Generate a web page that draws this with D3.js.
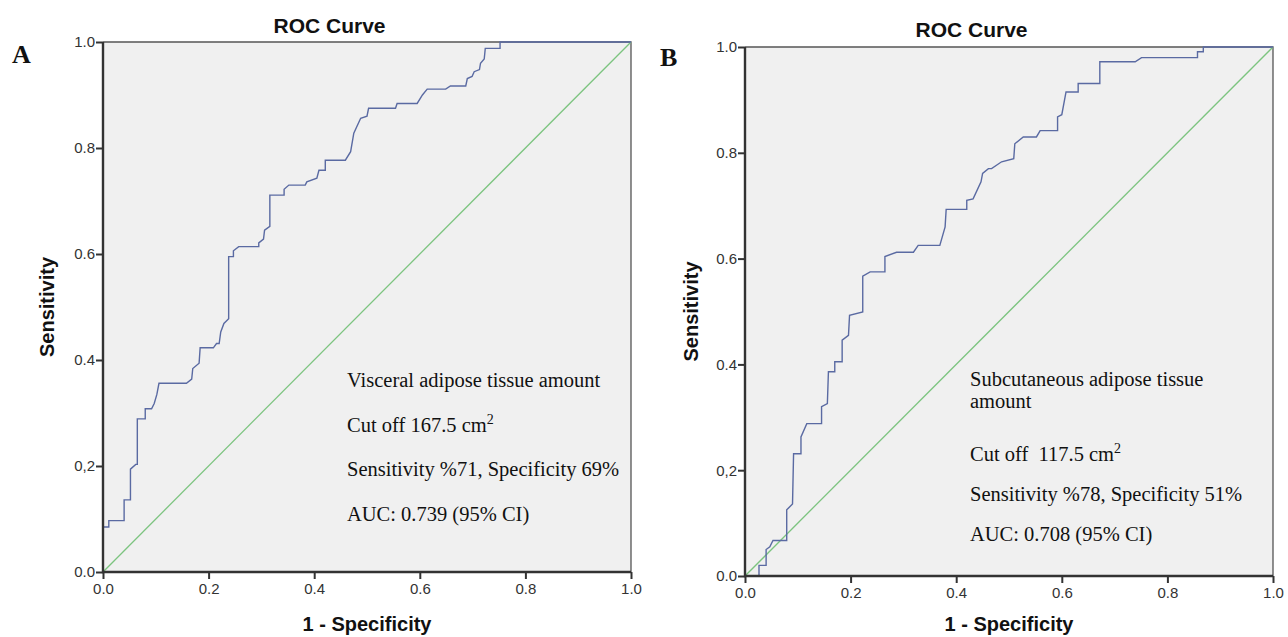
<!DOCTYPE html>
<html>
<head>
<meta charset="utf-8">
<script src="https://cdn.jsdelivr.net/npm/d3@7"></script>
<style>
  body { margin: 0; background: #fff; }
  svg { display: block; }
</style>
</head>
<body>
<svg id="chart" width="1288" height="637"></svg>
<script>
// ROC points (1 - specificity, sensitivity)
var rocA = [
  [0, 0], [0, 0.085], [0.011, 0.085], [0.011, 0.097], [0.040, 0.097], [0.040, 0.136],
  [0.052, 0.136], [0.052, 0.194], [0.062, 0.203], [0.065, 0.203], [0.065, 0.289],
  [0.080, 0.289], [0.080, 0.308], [0.092, 0.308], [0.097, 0.318], [0.102, 0.335],
  [0.106, 0.356], [0.158, 0.356], [0.168, 0.364], [0.170, 0.384], [0.182, 0.394],
  [0.184, 0.423], [0.209, 0.423], [0.215, 0.431], [0.220, 0.431], [0.223, 0.453],
  [0.229, 0.469], [0.238, 0.478], [0.238, 0.595], [0.247, 0.595], [0.247, 0.606],
  [0.257, 0.614], [0.295, 0.614], [0.295, 0.621], [0.304, 0.628], [0.306, 0.645],
  [0.316, 0.652], [0.316, 0.711], [0.343, 0.711], [0.343, 0.722], [0.352, 0.730],
  [0.383, 0.730], [0.386, 0.736], [0.405, 0.743], [0.409, 0.758], [0.421, 0.758],
  [0.421, 0.777], [0.459, 0.777], [0.469, 0.793], [0.475, 0.828], [0.488, 0.856],
  [0.500, 0.860], [0.503, 0.875], [0.554, 0.875], [0.557, 0.884], [0.595, 0.884],
  [0.605, 0.900], [0.614, 0.911], [0.649, 0.911], [0.658, 0.917], [0.687, 0.917],
  [0.690, 0.931], [0.699, 0.935], [0.703, 0.944], [0.713, 0.948], [0.715, 0.960],
  [0.722, 0.968], [0.724, 0.988], [0.752, 0.988], [0.752, 1], [1, 1]
];
var rocB = [
  [0, 0], [0.0265, 0], [0.0265, 0.020], [0.040, 0.020], [0.040, 0.050], [0.047, 0.055],
  [0.053, 0.067], [0.079, 0.067], [0.079, 0.125], [0.090, 0.136], [0.092, 0.231],
  [0.106, 0.231], [0.106, 0.263], [0.117, 0.288], [0.145, 0.288], [0.145, 0.320],
  [0.156, 0.326], [0.158, 0.386], [0.170, 0.386], [0.170, 0.405], [0.184, 0.405],
  [0.184, 0.446], [0.196, 0.455], [0.198, 0.493], [0.223, 0.499], [0.223, 0.567],
  [0.237, 0.575], [0.265, 0.575], [0.265, 0.604], [0.287, 0.612], [0.319, 0.612],
  [0.328, 0.625], [0.369, 0.625], [0.379, 0.660], [0.381, 0.693], [0.420, 0.693],
  [0.420, 0.710], [0.432, 0.713], [0.447, 0.745], [0.450, 0.761], [0.461, 0.770],
  [0.467, 0.770], [0.486, 0.783], [0.509, 0.789], [0.511, 0.817], [0.527, 0.830],
  [0.552, 0.830], [0.559, 0.842], [0.592, 0.842], [0.592, 0.868], [0.600, 0.872],
  [0.608, 0.915], [0.631, 0.915], [0.631, 0.931], [0.672, 0.931], [0.672, 0.972],
  [0.739, 0.972], [0.751, 0.980], [0.857, 0.980], [0.857, 0.991], [0.868, 0.991],
  [0.868, 1], [1, 1]
];
var refLine = [[0, 0], [1, 1]];

var tickValues = [0, 0.2, 0.4, 0.6, 0.8, 1.0];
var xTickLabels = ["0.0", "0.2", "0.4", "0.6", "0.8", "1.0"];
var yTickLabels = ["0.0", "0,2", "0.4", "0.6", "0.8", "1.0"];

var titleText = "ROC Curve";
var xTitle = "1 - Specificity";
var yTitle = "Sensitivity";

var notesA = [
  ["Visceral adipose tissue amount"],
  ["Cut off 167.5 cm", "2"],
  ["Sensitivity %71, Specificity 69%"],
  ["AUC: 0.739 (95% CI)"]
];
var notesB = [
  ["Subcutaneous adipose tissue"],
  ["amount"],
  ["Cut off\u00a0 117.5 cm", "2"],
  ["Sensitivity %78, Specificity 51%"],
  ["AUC: 0.708 (95% CI)"]
];

var svg = d3.select("#chart");
var sans = "'Liberation Sans', Arial, sans-serif";
var serif = "'Liberation Serif', 'Times New Roman', serif";

function drawPanel(p) {
    var w = p.width, h = p.height;
    var xScale = d3.scaleLinear().domain([0, 1]).range([0, w]);
    var yScale = d3.scaleLinear().domain([0, 1]).range([h, 0]);

    var g = svg.append("g")
        .attr("transform", "translate(" + p.left + "," + p.top + ")");

    // plot background
    g.append("rect")
        .attr("width", w).attr("height", h)
        .attr("fill", "#f0f0f0");

    // top and right frame
    g.append("path")
        .attr("d", "M0,0H" + w + "V" + h)
        .attr("fill", "none")
        .attr("stroke", "#555")
        .attr("stroke-width", 1.3);

    var line = d3.line()
        .x(function (d) { return xScale(d[0]); })
        .y(function (d) { return yScale(d[1]); });

    g.append("path")
        .datum(refLine)
        .attr("d", line)
        .attr("fill", "none")
        .attr("stroke", "#7cc47f")
        .attr("stroke-width", 1.3);

    g.append("path")
        .datum(p.roc)
        .attr("d", line)
        .attr("fill", "none")
        .attr("stroke", "#5a6aa2")
        .attr("stroke-width", 1.4);

    var xAxis = d3.axisBottom(xScale)
        .tickValues(tickValues)
        .tickSize(7)
        .tickPadding(4)
        .tickFormat(function (d, i) { return xTickLabels[i]; });
    var yAxis = d3.axisLeft(yScale)
        .tickValues(tickValues)
        .tickSize(7)
        .tickPadding(1)
        .tickFormat(function (d, i) { return yTickLabels[i]; });

    var gx = g.append("g").attr("transform", "translate(0," + h + ")").call(xAxis);
    var gy = g.append("g").call(yAxis);
    [gx, gy].forEach(function (ax) {
        ax.select(".domain").remove();
        ax.selectAll(".tick line").attr("stroke", "#333").attr("stroke-width", 2);
        ax.selectAll(".tick text")
            .attr("fill", "#333")
            .style("font-family", sans)
            .style("font-size", "15px");
    });

    // left and bottom axis lines
    g.append("path")
        .attr("d", "M0,0V" + h + "H" + w)
        .attr("fill", "none")
        .attr("stroke", "#333")
        .attr("stroke-width", 2.4);

    g.append("text")
        .attr("x", 226.5)
        .attr("y", p.titleY)
        .attr("text-anchor", "middle")
        .style("font-family", sans)
        .style("font-weight", "bold")
        .style("font-size", "21px")
        .attr("fill", "#111")
        .text(titleText);

    g.append("text")
        .attr("x", w / 2)
        .attr("y", p.xTitleY)
        .attr("text-anchor", "middle")
        .style("font-family", sans)
        .style("font-weight", "bold")
        .style("font-size", "20px")
        .attr("fill", "#111")
        .text(xTitle);

    g.append("text")
        .attr("transform", "translate(" + p.yTitleX + "," + (h / 2) + ") rotate(-90)")
        .attr("text-anchor", "middle")
        .attr("dy", "0.35em")
        .style("font-family", sans)
        .style("font-weight", "bold")
        .style("font-size", "20px")
        .attr("fill", "#111")
        .text(yTitle);

    // panel letter
    svg.append("text")
        .attr("x", p.letterX)
        .attr("y", p.letterY)
        .style("font-family", serif)
        .style("font-weight", "bold")
        .style("font-size", "26px")
        .attr("fill", "#111")
        .text(p.letter);

    // annotation lines
    p.notes.forEach(function (n, i) {
        var t = g.append("text")
            .attr("x", p.noteX)
            .attr("y", p.noteY[i])
            .style("font-family", serif)
            .style("font-size", "20.5px")
            .attr("fill", "#111");
        t.append("tspan").text(n[0]);
        if (n[1]) {
            t.append("tspan")
                .attr("dy", -8)
                .style("font-size", "14px")
                .text(n[1]);
        }
    });
}

drawPanel({
    left: 103, top: 42, width: 528, height: 530,
    roc: rocA, notes: notesA,
    noteX: 244, noteY: [345, 390, 434, 479],
    titleY: -9, xTitleY: 589, yTitleX: -56,
    letter: "A", letterX: 12, letterY: 63
});
drawPanel({
    left: 745, top: 47, width: 528, height: 529,
    roc: rocB, notes: notesB,
    noteX: 225, noteY: [339, 361, 414, 454, 494],
    titleY: -10, xTitleY: 584, yTitleX: -54,
    letter: "B", letterX: 660, letterY: 66
});
</script>
</body>
</html>
